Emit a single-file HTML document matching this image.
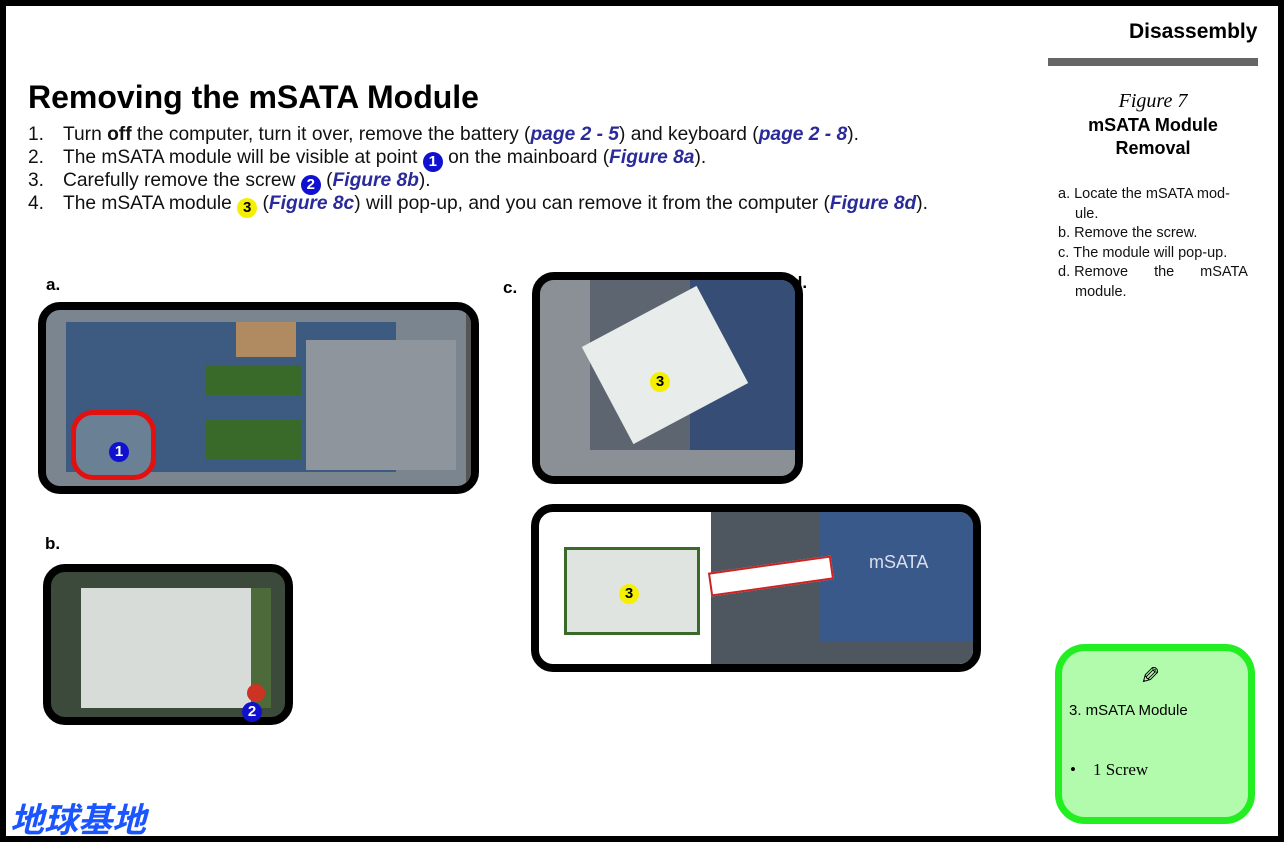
<!DOCTYPE html>
<html><head><meta charset="utf-8"><style>
body{margin:0;width:1284px;height:842px;position:relative;background:#fff;font-family:"Liberation Sans",Arial,sans-serif;overflow:hidden}
.a{position:absolute}
.frame{border:8px solid #000;border-radius:22px;box-sizing:border-box;overflow:hidden}
.num{display:inline-block;width:20px;height:20px;border-radius:50%;background:#1010d0;color:#fff;font-weight:bold;font-size:15px;text-align:center;line-height:20px;vertical-align:-3px}
.ny{background:#f5f000;color:#000}
.lk{color:#2a2a9a;font-weight:bold;font-style:italic}
.li{position:absolute;left:28px;font-size:19.2px;color:#111;white-space:nowrap}
.li span.n{display:inline-block;width:35px}
</style></head><body>
<div class="a" style="left:0;top:0;width:1284px;height:6px;background:#000"></div>
<div class="a" style="left:0;top:836px;width:1284px;height:6px;background:#000"></div>
<div class="a" style="left:0;top:0;width:6px;height:842px;background:#000"></div>
<div class="a" style="left:1278px;top:0;width:6px;height:842px;background:#000"></div>

<div class="a" style="left:1129px;top:20px;font-size:21px;font-weight:bold">Disassembly</div>
<div class="a" style="left:1048px;top:58px;width:210px;height:8px;background:#666"></div>
<div class="a" style="left:1048px;top:90px;width:210px;text-align:center;font-family:'Liberation Serif',serif;font-style:italic;font-size:20px">Figure 7</div>
<div class="a" style="left:1048px;top:114px;width:210px;text-align:center;font-size:18px;font-weight:bold;line-height:23px">mSATA Module<br>Removal</div>
<div class="a" style="left:1058px;top:185px;width:190px;font-size:14.5px;line-height:19.5px;color:#111">
<div>a.&nbsp;Locate the mSATA mod-</div><div style="padding-left:17px">ule.</div>
<div>b.&nbsp;Remove the screw.</div><div>c.&nbsp;The module will pop-up.</div>
<div style="display:flex;justify-content:space-between"><span>d.&nbsp;Remove</span><span>the</span><span>mSATA</span></div><div style="padding-left:17px">module.</div></div>

<div class="a" style="left:28px;top:79px;font-size:32px;font-weight:bold">Removing the mSATA Module</div>
<div class="li" style="top:124px"><span class="n">1.</span>Turn <b>off</b> the computer, turn it over, remove the battery (<span class="lk">page 2 - 5</span>) and keyboard (<span class="lk">page 2 - 8</span>).</div>
<div class="li" style="top:147px"><span class="n">2.</span>The mSATA module will be visible at point <span class="num">1</span> on the mainboard (<span class="lk">Figure 8a</span>).</div>
<div class="li" style="top:170px"><span class="n">3.</span>Carefully remove the screw <span class="num">2</span> (<span class="lk">Figure 8b</span>).</div>
<div class="li" style="top:193px"><span class="n">4.</span>The mSATA module <span class="num ny">3</span> (<span class="lk">Figure 8c</span>) will pop-up, and you can remove it from the computer (<span class="lk">Figure 8d</span>).</div>

<div class="a" style="left:46px;top:275px;font-size:17px;font-weight:bold">a.</div>
<div class="a" style="left:45px;top:534px;font-size:17px;font-weight:bold">b.</div>
<div class="a" style="left:503px;top:278px;font-size:17px;font-weight:bold">c.</div>
<div class="a" style="left:792px;top:273px;font-size:17px;font-weight:bold">d.</div>

<!-- a -->
<div class="a frame" style="left:38px;top:302px;width:441px;height:192px;background:#7b8590">
 <div class="a" style="left:20px;top:12px;width:330px;height:150px;background:#3d5a80"></div>
 <div class="a" style="left:260px;top:30px;width:150px;height:130px;background:#8e959c"></div>
 <div class="a" style="left:160px;top:55px;width:95px;height:30px;background:#3a6a2a"></div>
 <div class="a" style="left:160px;top:110px;width:95px;height:40px;background:#3a6a2a"></div>
 <div class="a" style="left:190px;top:12px;width:60px;height:35px;background:#b08a60"></div>
 <div class="a" style="left:420px;top:0;width:15px;height:180px;background:#555"></div>
 <div class="a" style="left:25px;top:100px;width:85px;height:70px;border:5px solid #e31010;border-radius:22px;box-sizing:border-box;background:#6a8094"></div>
 <div class="a" style="left:63px;top:130px"><span class="num">1</span></div>
</div>
<!-- b -->
<div class="a frame" style="left:43px;top:564px;width:250px;height:161px;background:#3b4a3a">
 <div class="a" style="left:30px;top:16px;width:170px;height:120px;background:#d8dcd8"></div>
 <div class="a" style="left:200px;top:16px;width:20px;height:120px;background:#4d6a3a"></div>
 <div class="a" style="left:196px;top:112px;width:18px;height:18px;border-radius:50%;background:#c32"></div>
</div>
<div class="a" style="left:242px;top:700px"><span class="num">2</span></div>
<!-- c -->
<div class="a frame" style="left:532px;top:272px;width:271px;height:212px;background:#5d6670">
 <div class="a" style="left:0;top:0;width:50px;height:200px;background:#8a9096"></div>
 <div class="a" style="left:150px;top:0;width:110px;height:200px;background:#364d75"></div>
 <div class="a" style="left:60px;top:30px;width:130px;height:110px;background:#e8ecea;transform:rotate(-28deg)"></div>
 <div class="a" style="left:110px;top:90px"><span class="num ny">3</span></div>
 <div class="a" style="left:0;top:170px;width:260px;height:30px;background:#8a9096"></div>
</div>
<!-- d -->
<div class="a frame" style="left:531px;top:504px;width:450px;height:168px;background:#fff">
 <div class="a" style="left:172px;top:0;width:270px;height:160px;background:#4e5660"></div>
 <div class="a" style="left:280px;top:0;width:160px;height:130px;background:#38598a"></div>
 <div class="a" style="left:330px;top:40px;color:#dde;font-size:18px">mSATA</div>
 <div class="a" style="left:25px;top:35px;width:130px;height:82px;background:#e0e4e0;border:3px solid #3a6a2a"></div>
 <div class="a" style="left:80px;top:70px"><span class="num ny">3</span></div>
 <div class="a" style="left:170px;top:52px;width:120px;height:20px;background:#fff;border:2px solid #c22;transform:rotate(-8deg)"></div>
</div>

<!-- green box -->
<div class="a" style="left:1055px;top:644px;width:200px;height:180px;border:7px solid #22ee22;border-radius:30px;background:#b2fbad;box-sizing:border-box"></div>
<div class="a" style="left:1140px;top:662px;font-size:24px;transform:scaleX(-1)">✎</div>
<div class="a" style="left:1069px;top:702px;font-size:15px">3. mSATA Module</div>
<div class="a" style="left:1070px;top:760px;font-size:17px;font-family:'Liberation Serif',serif">•&nbsp;&nbsp;&nbsp;&nbsp;1 Screw</div>

<div class="a" style="left:10px;top:793px;font-size:34px;color:#1a55ff;font-style:italic;font-weight:bold;font-family:'Liberation Sans','Noto Sans CJK SC',sans-serif">地球基地</div>
</body></html>
